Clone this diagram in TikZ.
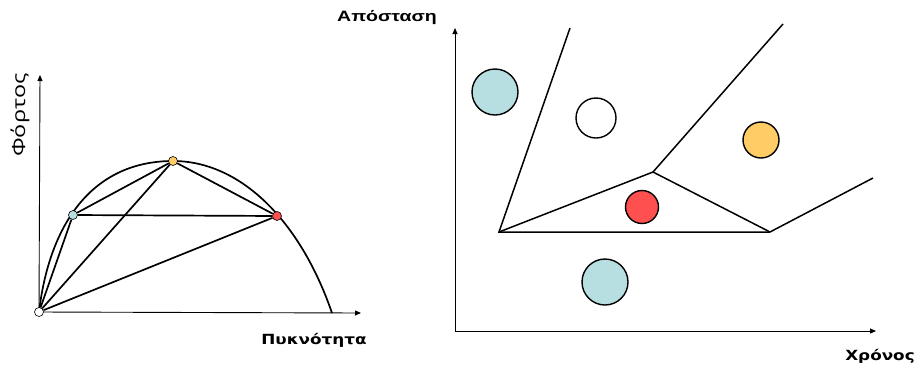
\documentclass[tikz,border=0pt]{standalone}
\usepackage{fontspec}
\usepackage{tikz}
\usetikzlibrary{arrows.meta}
\newfontfamily\arialfont[FakeStretch=1.3]{Liberation Sans}
\newfontfamily\widefont[FakeStretch=1.2]{DejaVu Sans}
\newfontfamily\opensansfont[FakeStretch=1.3]{Open Sans}
\definecolor{dotblue}{RGB}{183,222,225}
\definecolor{dotyellow}{RGB}{255,204,102}
\definecolor{dotred}{RGB}{255,80,80}

\begin{document}
\begin{tikzpicture}[x=1pt,y=-1pt,axis/.style={-{Triangle[length=6pt,width=5pt]},line width=.9pt},chord/.style={line width=1.7pt},edge/.style={line width=1.5pt},pt/.style={circle,draw,line width=.6pt,inner sep=0pt,minimum size=9pt},blob/.style={circle,draw,line width=1.4pt,inner sep=0pt}]
\useasboundingbox(0,0)rectangle(921,373);

% Left: load against density, with the states as dots on the curve.
\coordinate(o)at(39,312);
\draw[axis](o)--(40,75);
\draw[axis](o)--(361,313);
\draw[chord](o)..controls(50,220)and(95,161)..(173,161)..controls(240,161)and(300,220)..(332,313);
\node[pt,fill=white](n0)at(o){};
\node[pt,fill=dotblue](n1)at(73,215){};
\node[pt,fill=dotyellow](n2)at(173,161){};
\node[pt,fill=dotred](n3)at(277,216){};
\foreach \a/\b in {n0/n1,n0/n2,n0/n3,n1/n2,n2/n3,n1/n3}{
 \draw[chord](\a)--(\b);
}
\node[rotate=90,font=\opensansfont\fontsize{18}{20}\selectfont](yl)at(20,115){Φόρτος};
\node[font=\widefont\bfseries\fontsize{14}{16}\selectfont](xl)at(314,340){Πυκνότητα};

% Right: distance against time, split into regions.
\coordinate(p)at(455,331);
\draw[axis](p)--(455,28);
\draw[axis](p)--(876,331);
\coordinate(a)at(499,232);
\coordinate(b)at(653,172);
\coordinate(c)at(770,232);
\coordinate(ta)at(570,28);
\coordinate(tb)at(783,24);
\coordinate(tc)at(873,178);
\draw[edge](ta)--(a)--(c)--(tc);
\draw[edge](a)--(b)--(c);
\draw[edge](b)--(tb);
\node[blob,fill=dotblue,minimum size=46pt](s1)at(495,92){};
\node[blob,fill=white,minimum size=40pt](s2)at(596,118){};
\node[blob,fill=dotyellow,minimum size=36pt](s3)at(761,140){};
\node[blob,fill=dotred,minimum size=33pt](s4)at(642,207){};
\node[blob,fill=dotblue,minimum size=46pt](s5)at(605,282){};
\node[font=\arialfont\bfseries\fontsize{15}{17}\selectfont](dl)at(387,18){Απόσταση};
\node[font=\widefont\bfseries\fontsize{14}{16}\selectfont](tl)at(880,356){Χρόνος};
\end{tikzpicture}
\end{document}
